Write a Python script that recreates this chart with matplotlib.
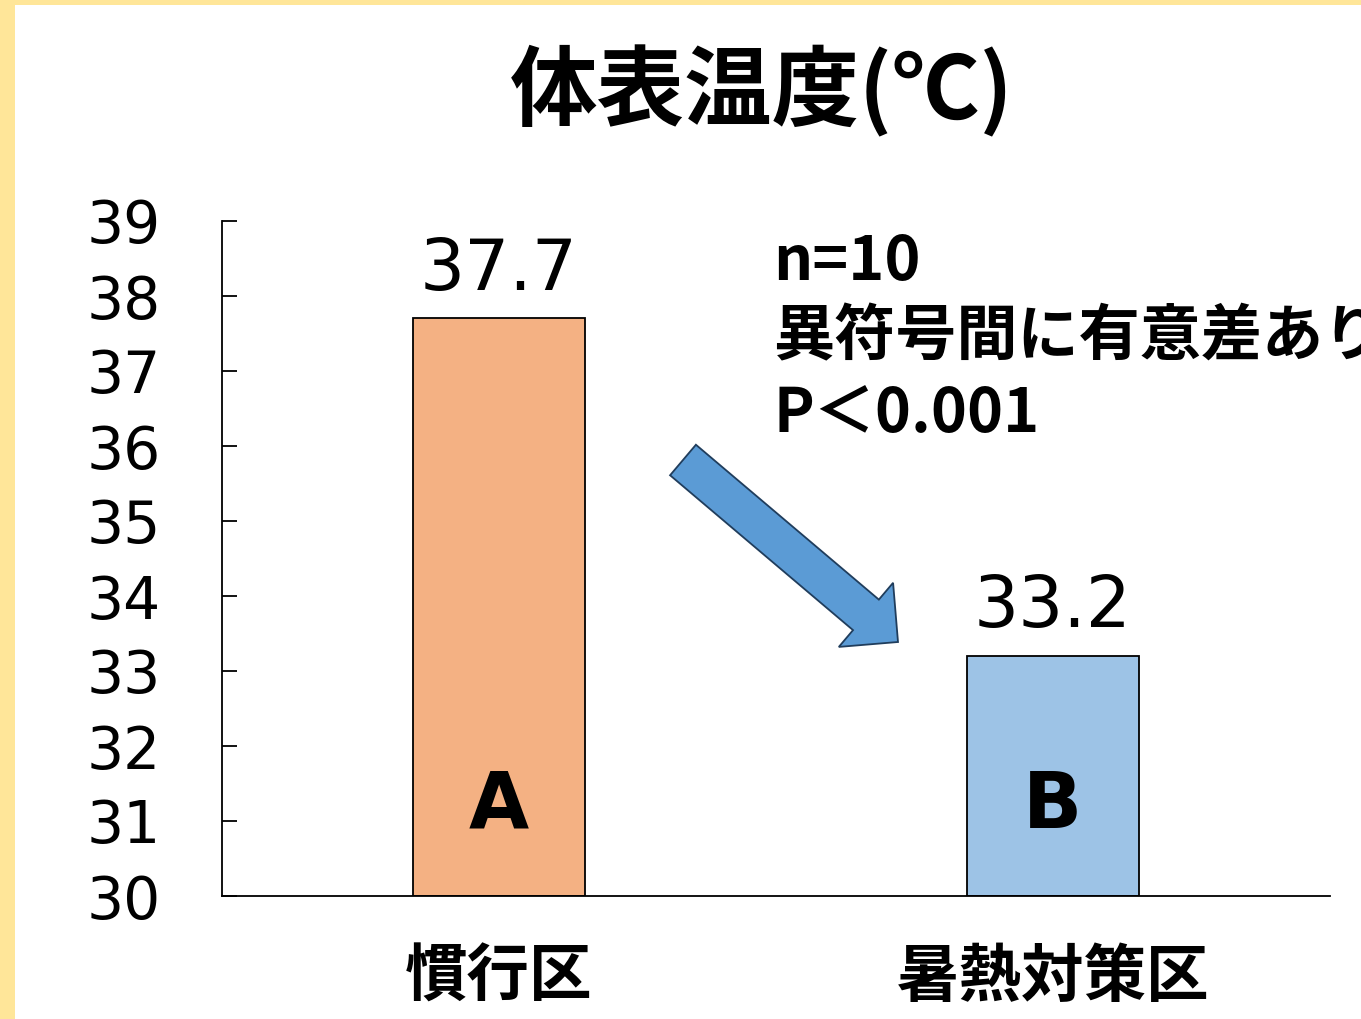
# Body surface temperature bar chart (recreation)
import matplotlib
matplotlib.use('Agg')
import matplotlib.pyplot as plt
from matplotlib.patches import Rectangle, FancyArrow

# --- Data ---
groups = ['慣行区', '暑熱対策区']
temps = [37.7, 33.2]
value_labels = ['37.7', '33.2']
letters = ['A', 'B']
yticks = list(range(30, 40))
note_lines = ['n=10', '異符号間に有意差あり', 'P＜0.001']
title = '体表温度(℃)'

bar_colors = ['#F4B183', '#9DC3E6']
cjk = ['Noto Sans CJK JP', 'DejaVu Sans']
plt.rcParams['font.family'] = ['DejaVu Sans', 'Noto Sans CJK JP']

W, H = 1361, 1019
fig = plt.figure(figsize=(W / 100, H / 100), dpi=100)
fig.patch.set_facecolor('white')

# yellow slide frame (left and top edges)
fig.patches.append(Rectangle((0, 0), 15 / W, 1, transform=fig.transFigure,
                             facecolor='#FFE699', edgecolor='none', zorder=0))
fig.patches.append(Rectangle((0, 1 - 5 / H), 1, 5 / H, transform=fig.transFigure,
                             facecolor='#FFE699', edgecolor='none', zorder=0))

# --- Axes ---
left, right = 222 / W, 1330 / W
bottom, top = 1 - 896 / H, 1 - 221 / H
ax = fig.add_axes([left, bottom, right - left, top - bottom])

x = range(len(groups))
bars = ax.bar(x, [t - 30 for t in temps], bottom=30, width=0.31,
              color=bar_colors, edgecolor='black', linewidth=1.3, zorder=2)

ax.set_xlim(-0.5, 1.5)
ax.set_ylim(30, 39)
ax.set_yticks(yticks)
ax.set_yticklabels([str(t) for t in yticks], fontsize=42)
for lab in ax.get_yticklabels():
    lab.set_path_effects([])
ax.tick_params(axis='y', direction='in', length=11, width=1.3, pad=44)
ax.set_xticks(list(x))
ax.set_xticklabels(groups, fontsize=45, fontweight='bold', family=cjk)
ax.tick_params(axis='x', length=0, pad=36)

for s in ['top', 'right']:
    ax.spines[s].set_visible(False)
for s in ['left', 'bottom']:
    ax.spines[s].set_linewidth(1.3)

# value labels above bars and letters inside bars
for xi, t, lab, let in zip(x, temps, value_labels, letters):
    ax.annotate(lab, (xi, t), xytext=(0, 10), textcoords='offset points',
                ha='center', va='bottom', fontsize=51)
    ax.text(xi, 31.2, let, ha='center', va='center', fontsize=56,
            fontweight='bold')

# title
fig.text(762 / W, 1 - 92 / H, title, ha='center', va='center',
         fontsize=63, fontweight='bold', family=cjk)

# statistics note
for i, line in enumerate(note_lines):
    fig.text(773 / W, 1 - (262 + 76 * i) / H, line, ha='left', va='center',
             fontsize=44, fontweight='bold', family=cjk)

# blue arrow between the bars
tail = (683 / 100, (H - 460) / 100)
tip = (898 / 100, (H - 642) / 100)
arrow = FancyArrow(tail[0], tail[1], tip[0] - tail[0], tip[1] - tail[1],
                   width=0.40, head_width=0.84, head_length=0.42,
                   length_includes_head=True, transform=fig.dpi_scale_trans,
                   facecolor='#5B9BD5', edgecolor='#203D5C', linewidth=1.3)
fig.patches.append(arrow)

fig.savefig('out.png', dpi=100)
